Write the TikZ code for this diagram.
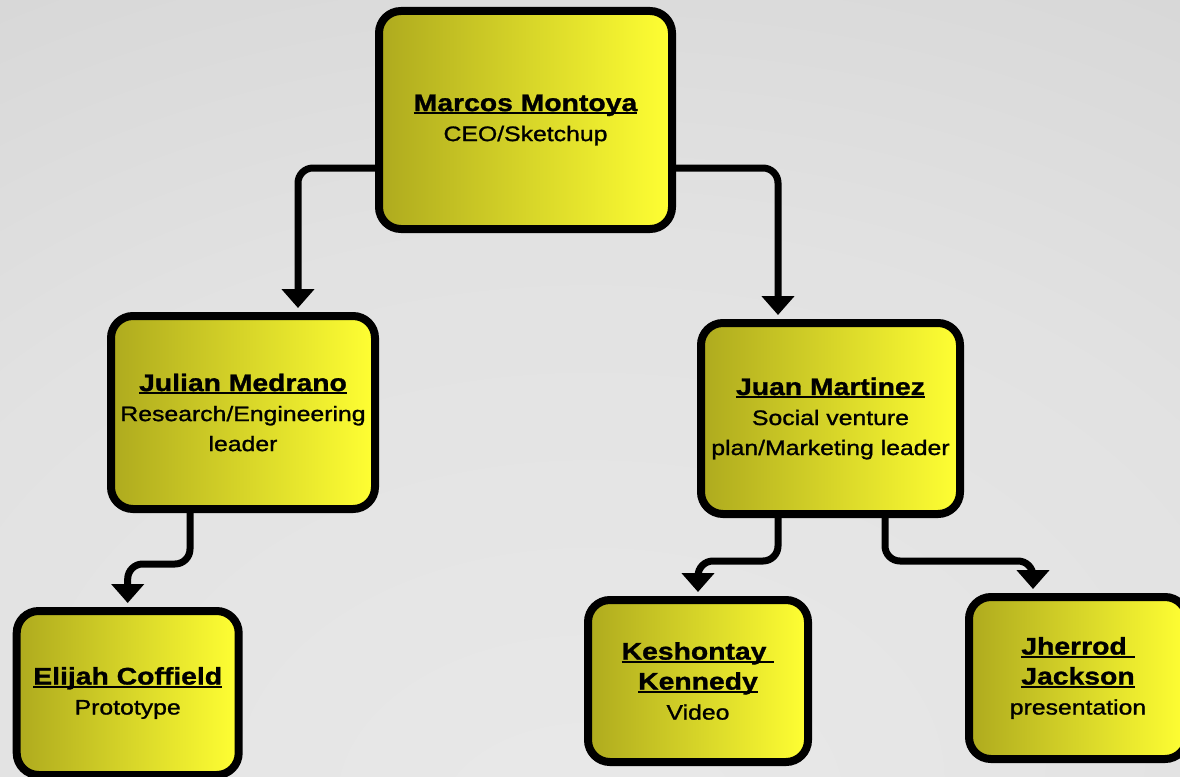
\documentclass[tikz,border=0pt]{standalone}
\usepackage{fontspec}
\setmainfont{Liberation Sans}[FakeStretch=1.2]
\newfontfamily\subfont{Liberation Sans}[FakeStretch=1.18, FakeBold=1.2]
\usetikzlibrary{arrows.meta}

\definecolor{bgin}{RGB}{233,233,233}
\definecolor{bgmid}{RGB}{226,226,226}
\definecolor{bgout}{RGB}{188,188,188}
\definecolor{boxL}{RGB}{174,170,30}
\definecolor{boxR}{RGB}{255,255,51}
\pgfdeclareradialshading[bgin,bgmid,bgout]{bgradial}{\pgfpoint{0bp}{-30bp}}{color(0bp)=(bgin); color(30bp)=(bgmid); color(95bp)=(bgout)}

\newcommand\ulname[1]{\setbox0\hbox{#1}\rlap{\rule[-3pt]{\wd0}{2pt}}\box0}
\newcommand\pname[1]{{\fontsize{24}{31}\selectfont\bfseries\ulname{#1}}}

\begin{document}
\begin{tikzpicture}
[
x=1pt, y=-1pt,
person/.style={draw, line width=8pt, rounded corners=22pt, left color=boxL, right color=boxR,
  align=center, inner sep=0pt, font=\subfont\fontsize{21}{30}\selectfont},
link/.style={line width=7pt, rounded corners=15pt, -{Triangle[width=32pt,length=19pt,sharp]}, shorten >=4pt}
]
\useasboundingbox (0,0) rectangle (1180,776);
\clip (0,0) rectangle (1180,776);
\fill[shading=bgradial] (0,0) rectangle (1180,776);

\node[person, minimum width=293pt, minimum height=218pt] (ceo) at (525.5,120) {\pname{Marcos Montoya}\\CEO/Sketchup};
\node[person, minimum width=264pt, minimum height=193pt] (julian) at (243,412.5) {\pname{Julian Medrano}\\Research/Engineering\\leader};
\node[person, minimum width=259pt, minimum height=191pt] (juan) at (830.5,418.5) {\pname{Juan Martinez}\\Social venture\\plan/Marketing leader};
\node[person, minimum width=222pt, minimum height=164pt] (elijah) at (127.7,693) {\pname{Elijah Coffield}\\Prototype};
\node[person, minimum width=220pt, minimum height=162pt] (keshontay) at (698,681) {\pname{Keshontay\ }\\\pname{Kennedy}\\Video};
\node[person, minimum width=218pt, minimum height=162pt] (jherrod) at (1078,678) {\pname{Jherrod\ }\\\pname{Jackson}\\presentation};

\draw[link] ([yshift=-48pt]ceo.west) -| ([xshift=55pt]julian.north);
\draw[link] ([yshift=-48pt]ceo.east) -| ([xshift=-52.5pt]juan.north);
\draw[link] ([xshift=-53pt]julian.south) -- ++(0,51) -| (elijah.north);
\draw[link] ([xshift=-52.5pt]juan.south) -- ++(0,43) -| (keshontay.north);
\draw[link] ([xshift=54.5pt]juan.south) -- ++(0,43) -| ([xshift=-45pt]jherrod.north);
\end{tikzpicture}
\end{document}
